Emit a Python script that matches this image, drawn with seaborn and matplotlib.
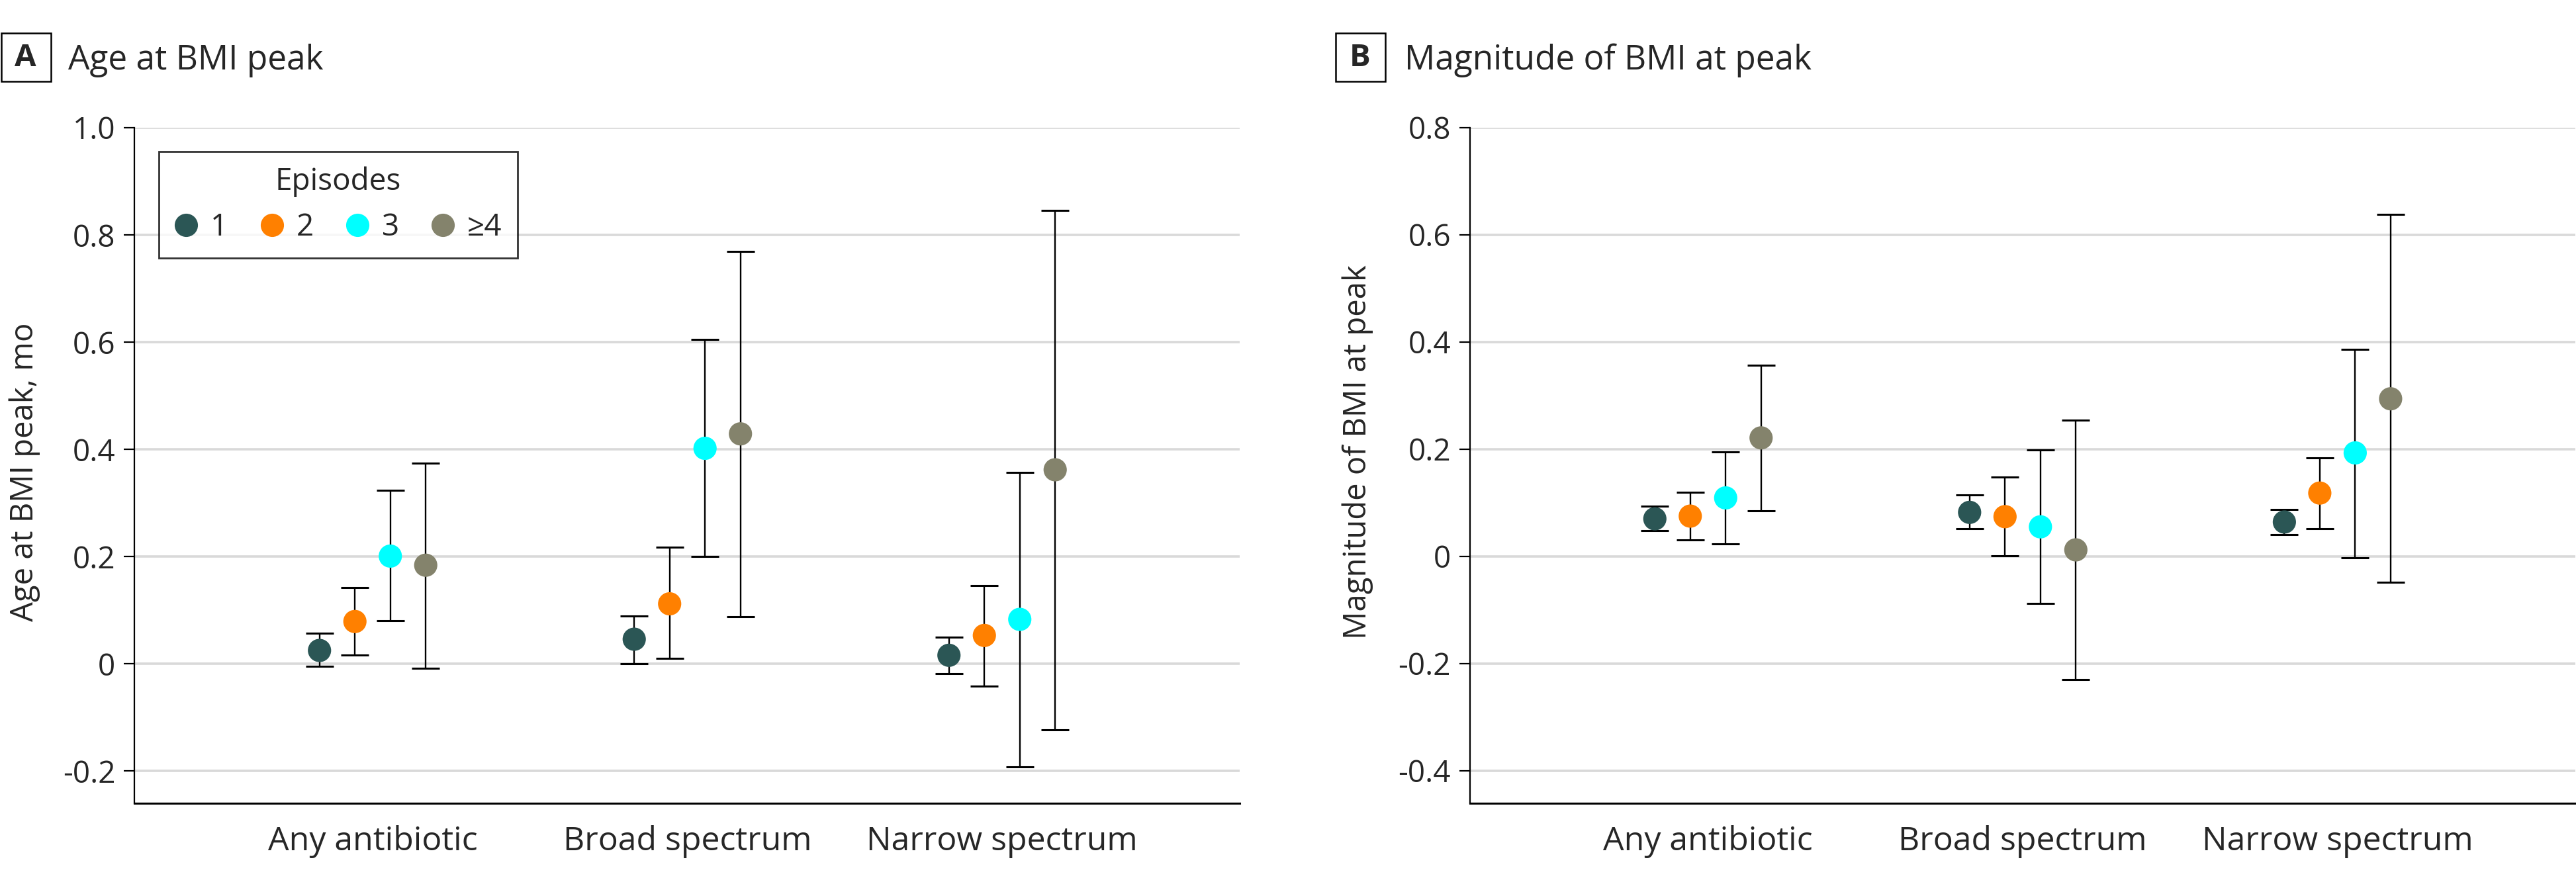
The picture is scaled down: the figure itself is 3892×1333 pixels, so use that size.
import numpy as np
import pandas as pd
import matplotlib
matplotlib.use("Agg")
import matplotlib.pyplot as plt
from matplotlib.patches import Rectangle
import seaborn as sns

# ---------------- data ----------------
categories = ["Any antibiotic", "Broad spectrum", "Narrow spectrum"]
episodes = ["1", "2", "3", "\u22654"]
colors = ["#2B5655", "#FF8000", "#00FFFF", "#84836C"]

# Panel A: age at BMI peak, mo (rows: episodes, cols: categories)
age_est = [[0.025, 0.046, 0.016],
           [0.079, 0.112, 0.053],
           [0.201, 0.402, 0.083],
           [0.184, 0.429, 0.362]]
age_lo = [[-0.005, 0.001, -0.018],
          [0.017, 0.010, -0.041],
          [0.081, 0.200, -0.192],
          [-0.008, 0.088, -0.123]]
age_hi = [[0.057, 0.089, 0.050],
          [0.142, 0.217, 0.146],
          [0.324, 0.605, 0.357],
          [0.374, 0.769, 0.846]]

# Panel B: magnitude of BMI at peak
mag_est = [[0.070, 0.082, 0.064],
           [0.075, 0.074, 0.118],
           [0.109, 0.055, 0.193],
           [0.221, 0.012, 0.294]]
mag_lo = [[0.048, 0.052, 0.040],
          [0.031, 0.001, 0.052],
          [0.023, -0.088, -0.003],
          [0.085, -0.230, -0.048]]
mag_hi = [[0.093, 0.114, 0.087],
          [0.119, 0.148, 0.184],
          [0.195, 0.199, 0.386],
          [0.356, 0.254, 0.638]]

age_ticks = [-0.2, 0, 0.2, 0.4, 0.6, 0.8, 1.0]
age_ticklabels = ["-0.2", "0", "0.2", "0.4", "0.6", "0.8", "1.0"]
mag_ticks = [-0.4, -0.2, 0, 0.2, 0.4, 0.6, 0.8]
mag_ticklabels = ["-0.4", "-0.2", "0", "0.2", "0.4", "0.6", "0.8"]


def make_df(est, lo, hi):
    rows = []
    for i, ep in enumerate(episodes):
        for j, cat in enumerate(categories):
            rows.append(dict(Category=cat, cat_idx=j, ep_idx=i, Episodes=ep,
                             est=est[i][j], lo=lo[i][j], hi=hi[i][j]))
    return pd.DataFrame(rows)


dfA = make_df(age_est, age_lo, age_hi)
dfB = make_df(mag_est, mag_lo, mag_hi)

# ---------------- style ----------------
sns.set_theme(style="white")
FONT = ["Open Sans", "DejaVu Sans"]
plt.rcParams["font.family"] = FONT
plt.rcParams["axes.unicode_minus"] = False

W, H, DPI = 3892, 1333, 200
fig = plt.figure(figsize=(W / DPI, H / DPI), dpi=DPI)

def fx(px):
    return px / W

def fy(py):
    return 1 - py / H

top, bot = 193, 1214
axA = fig.add_axes([fx(203), fy(bot), fx(1873) - fx(203), fy(top) - fy(bot)])
axB = fig.add_axes([fx(2220.5), fy(bot), fx(3890.7) - fx(2220.5), fy(top) - fy(bot)])

STEP = 0.1125
palette = dict(zip(episodes, colors))


def draw(ax, df, ylim, ticks, ticklabels, ylabel, label_xy, legend):
    df = df.copy()
    df["x"] = df["cat_idx"] + (df["ep_idx"] - 1.5) * STEP
    ax.errorbar(df["x"], df["est"],
                yerr=[df["est"] - df["lo"], df["hi"] - df["est"]],
                fmt="none", ecolor="black", elinewidth=0.85,
                capsize=7.4, capthick=1.1, zorder=2)
    sns.scatterplot(data=df, x="x", y="est", hue="Episodes",
                    hue_order=episodes, palette=palette, s=160,
                    linewidth=0, ax=ax, zorder=3, legend=legend)
    ax.set_xlim(-0.757, 2.755)
    ax.set_ylim(*ylim)
    ax.set_yticks(ticks)
    ax.set_yticklabels(ticklabels)
    ax.set_xticks(range(len(categories)))
    ax.set_xticklabels(categories)
    ax.set_xlabel("")
    ax.set_ylabel(ylabel, fontsize=17)
    ax.yaxis.set_label_coords(*label_xy)
    ax.grid(axis="y", color="#d9d9d9", linewidth=1.3, zorder=0)
    ax.grid(axis="x", visible=False)
    ax.set_axisbelow(True)
    for s in ["top", "right"]:
        ax.spines[s].set_visible(False)
    ax.spines["left"].set_color("black")
    ax.spines["left"].set_linewidth(0.8)
    ax.spines["bottom"].set_color("black")
    ax.spines["bottom"].set_linewidth(1.1)
    ax.tick_params(axis="y", which="major", length=5.6, width=0.8,
                   color="black", pad=4.7, labelsize=16.5, left=True)
    ax.tick_params(axis="x", length=0, pad=12, labelsize=18)


draw(axA, dfA, (-0.26, 1.0), age_ticks, age_ticklabels,
     "Age at BMI peak, mo", (-0.085, 0.49), True)
draw(axB, dfB, (-0.461, 0.8), mag_ticks, mag_ticklabels,
     "Magnitude of BMI at peak", (-0.0874, 0.52), False)

sns.move_legend(axA, loc="upper left", bbox_to_anchor=(0.0222, 0.9647),
                ncol=4, frameon=True, title="Episodes", fontsize=16.5,
                title_fontsize=16.5, handlelength=0.8, handletextpad=0.4,
                columnspacing=1.05, borderpad=0.5, borderaxespad=0.0,
                markerscale=1.0)
leg = axA.get_legend()
leg.get_frame().set_edgecolor("black")
leg.get_frame().set_linewidth(1.0)
leg.get_frame().set_boxstyle("square", pad=0)

# panel labels and titles
for bx, tx, letter, title in [(1.5, 103, "A", "Age at BMI peak"),
                               (2018, 2122, "B", "Magnitude of BMI at peak")]:
    fig.patches.append(Rectangle((fx(bx), fy(123)), fx(75) - fx(0), fy(50) - fy(123),
                                 transform=fig.transFigure, fill=False,
                                 edgecolor="black", linewidth=0.9))
    fig.text(fx(bx + 37), fy(87), letter, ha="center", va="center",
             fontsize=17, fontweight="bold")
    fig.text(fx(tx), fy(105), title, ha="left", va="baseline", fontsize=18.5)

fig.savefig("out.png", dpi=DPI)
